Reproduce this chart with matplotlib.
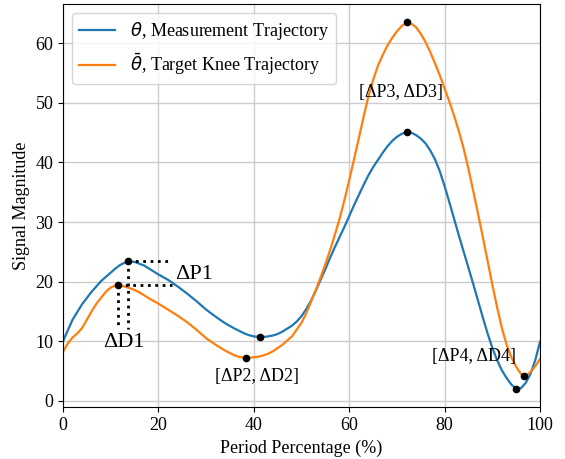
import matplotlib
matplotlib.use("Agg")
import matplotlib.pyplot as plt

plt.rcParams.update({"font.family": "serif", "font.serif": ["Liberation Serif", "DejaVu Serif"],
                     "font.size": 13, "mathtext.fontset": "dejavusans"})

x_meas = [0, 2, 4, 6, 8, 10, 11, 12, 13, 13.7, 15, 16, 17, 18, 20, 22, 24, 26, 28, 30, 32, 34,
          36, 38, 39, 40, 41.3, 42, 43, 44, 45, 46, 47, 48, 49, 50, 51, 52, 53, 54, 55, 56, 57,
          58, 59, 60, 61, 62, 63, 64, 65, 66, 67, 68, 69, 70, 71, 72.1, 73, 74, 75, 76, 77, 78,
          79, 80, 81, 82, 83, 84, 85, 86, 87, 88, 89, 90, 91, 92, 93, 94, 95, 96, 97, 98, 99, 100]
y_meas = [10.0, 13.6, 16.2, 18.3, 20.1, 21.5, 22.2, 22.8, 23.2, 23.4, 23.3, 23.0, 22.7, 22.2,
          21.2, 20.3, 19.2, 18.0, 16.7, 15.3, 14.1, 13.0, 12.1, 11.3, 11.0, 10.8, 10.7, 10.7,
          10.8, 10.95, 11.2, 11.6, 12.1, 12.6, 13.3, 14.2, 15.4, 16.8, 18.5, 20.3, 22.1, 24.0,
          25.8, 27.5, 29.2, 31.0, 32.8, 34.5, 36.2, 37.8, 39.2, 40.4, 41.6, 42.7, 43.6, 44.3,
          44.8, 45.1, 45.0, 44.6, 44.0, 43.2, 42.0, 40.5, 38.5, 36.0, 33.3, 30.5, 27.7, 25.0,
          22.3, 19.6, 16.8, 14.0, 11.3, 8.9, 6.8, 5.1, 3.8, 2.7, 2.0, 2.1, 3.0, 4.5, 6.8, 9.9]

# target knee trajectory (orange)
x_tgt = [0, 1, 2, 3, 4, 5, 6, 7, 8, 9, 10, 11, 11.5, 12, 13, 14, 15, 16, 18, 20, 22, 24, 26,
         28, 30, 32, 34, 36, 37, 38.4, 39, 40, 41, 42, 43, 44, 46, 48, 50, 51, 52, 53, 54, 55,
         56, 57, 58, 59, 60, 61, 62, 63, 64, 65, 66, 67, 68, 69, 70, 71, 72.1, 73, 74, 75, 76,
         77, 78, 79, 80, 81, 82, 83, 84, 85, 86, 87, 88, 89, 90, 91, 92, 93, 94, 95, 96, 96.6,
         97, 98, 99, 100]
y_tgt = [8.2, 9.6, 10.6, 11.3, 12.2, 13.6, 15.0, 16.3, 17.3, 18.3, 19.0, 19.35, 19.4, 19.35,
         19.15, 18.9, 18.6, 18.2, 17.2, 16.3, 15.3, 14.3, 13.2, 11.9, 10.5, 9.4, 8.4, 7.6, 7.35,
         7.2, 7.2, 7.3, 7.4, 7.6, 7.9, 8.3, 9.4, 10.8, 13.1, 14.7, 16.6, 18.6, 20.7, 22.9,
         25.3, 27.9, 30.6, 33.7, 37.0, 40.5, 44.0, 47.6, 51.0, 53.8, 56.2, 58.0, 59.6, 60.9,
         62.0, 62.9, 63.5, 63.3, 62.7, 61.6, 60.2, 58.5, 56.6, 54.6, 52.4, 50.2, 47.8, 45.2,
         42.3, 38.9, 35.2, 31.4, 27.5, 23.5, 19.5, 15.7, 12.2, 9.4, 7.3, 5.7, 4.5, 4.2, 4.2,
         4.8, 5.8, 7.0]

# marked extrema
pk_x = [13.7, 11.5, 41.3, 38.4, 72.1, 72.1, 95.0, 96.6]
pk_y = [23.4, 19.4, 10.7, 7.2, 45.1, 63.5, 2.0, 4.2]

labels = ["[ΔP2, ΔD2]", "[ΔP3, ΔD3]", "[ΔP4, ΔD4]"]
label_xy = [(40.7, 4.0), (70.9, 51.8), (86.2, 7.5)]

fig = plt.figure(figsize=(5.65, 4.59), dpi=100)
ax = fig.add_axes([0.1115, 0.113, 0.8443, 0.878])
ax.plot(x_meas, y_meas, color="#1f77b4", lw=1.6, label=r"$\theta$, Measurement Trajectory")
ax.plot(x_tgt, y_tgt, color="#ff7f0e", lw=1.6, label=r"$\bar{\theta}$, Target Knee Trajectory")
ax.plot(pk_x, pk_y, "o", color="black", ms=4.5, zorder=5)

# delta P1 / delta D1 guide lines
ax.plot([pk_x[0], 22.4], [pk_y[0], pk_y[0]], ":", color="black", lw=2)
ax.plot([pk_x[1], 22.8], [pk_y[1], pk_y[1]], ":", color="black", lw=2)
ax.plot([pk_x[0], pk_x[0]], [pk_y[0], 12.0], ":", color="black", lw=2)
ax.plot([pk_x[1], pk_x[1]], [pk_y[1], 12.2], ":", color="black", lw=2)
ax.text(27.5, 21.2, "ΔP1", fontsize=16, ha="center", va="center")
ax.text(12.8, 9.7, "ΔD1", fontsize=16, ha="center", va="center")
for s, (tx, ty) in zip(labels, label_xy):
    ax.text(tx, ty, s, fontsize=13, ha="center", va="center")

ax.set_xlim(0, 100)
ax.set_xticks([0, 20, 40, 60, 80, 100])
ax.set_yticks([0, 10, 20, 30, 40, 50, 60])
ax.set_xlabel("Period Percentage (%)")
ax.set_ylabel("Signal Magnitude")
ax.grid(color="#cccccc", lw=1)
ax.legend(loc="upper left", fontsize=13, handlelength=2.0)
fig.savefig("out.png", dpi=100)
